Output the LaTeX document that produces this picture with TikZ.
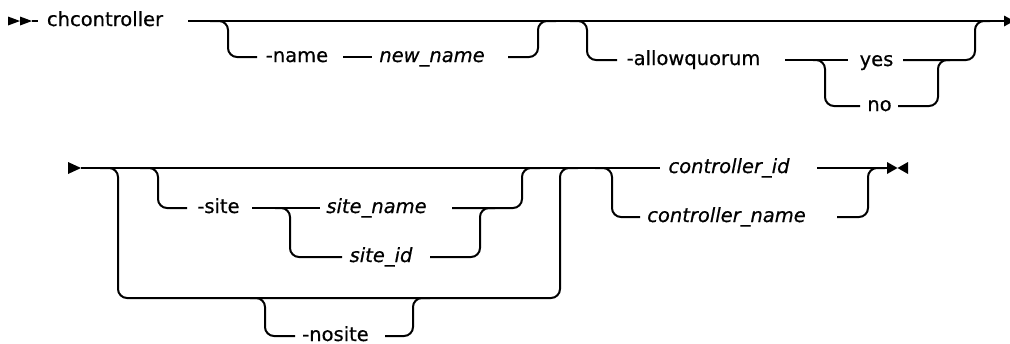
\documentclass[tikz,border=0pt]{standalone}
\usepackage{fontspec}
\setmainfont{DejaVu Sans}[FakeBold=0.6]
\begin{document}
\begin{tikzpicture}[x=1pt,y=-1pt,line width=2pt,
  rr/.style={rounded corners=9pt},
  kw/.style={anchor=base,inner sep=0pt,yshift=-5pt,font=\fontsize{19.5}{22}\selectfont},
  var/.style={anchor=base,inner sep=0pt,yshift=-5pt,font=\fontsize{19.5}{22}\selectfont\itshape},
  tipshape/.style={fill=black,draw=none}]
\useasboundingbox (0,0) rectangle (1010,343);
% ---------- text nodes ----------
\node[kw]  (cmd)   at (105,21)   {chcontroller};
\node[kw]  (nm)    at (297,57)   {-name};
\node[var] (nnm)   at (432,57)   {new\_name};
\node[kw]  (aq)    at (693.5,60) {-allowquorum};
\node[kw]  (yes)   at (876.5,61) {yes};
\node[kw]  (no)    at (879.5,106){no};
\node[kw]  (site)  at (218.5,208){-site};
\node[var] (sname) at (376.5,208){site\_name};
\node[var] (sid)   at (381,257)  {site\_id};
\node[kw]  (nos)   at (335.5,336){-nosite};
\node[var] (cid)   at (729,168)  {controller\_id};
\node[var] (cname) at (726.5,217){controller\_name};
% ---------- coordinates ----------
\coordinate (s1) at (32,21);   \coordinate (s1b) at (38,21);
\coordinate (m1a) at (188,21); \coordinate (m1b) at (1005,21);
\coordinate (n1) at (210,21);  \coordinate (n2) at (228,21); \coordinate (n3) at (228,57); \coordinate (n4) at (257,57);
\coordinate (n5) at (343,57);  \coordinate (n6) at (372,57);
\coordinate (n7) at (508,57);  \coordinate (n8) at (538,57); \coordinate (n9) at (538,21); \coordinate (n10) at (556,21);
\coordinate (a1) at (570,21);  \coordinate (a2) at (587,21); \coordinate (a3) at (587,60); \coordinate (a4) at (617,60);
\coordinate (a5) at (785,60);  \coordinate (a6) at (848,60);
\coordinate (a7) at (813,60);  \coordinate (a8) at (825,60); \coordinate (a9) at (825,106); \coordinate (a10) at (860,106);
\coordinate (y1) at (903,60);  \coordinate (y2) at (975,60); \coordinate (y3) at (975,21); \coordinate (y4) at (990,21);
\coordinate (o1) at (898,106); \coordinate (o2) at (938,106); \coordinate (o3) at (938,60); \coordinate (o4) at (950,60);
\coordinate (s2) at (81,168);  \coordinate (m2b) at (660,168);
\coordinate (p1) at (100,168); \coordinate (p2) at (118,168); \coordinate (p3) at (118,298); \coordinate (p4) at (560,298); \coordinate (p5) at (560,168); \coordinate (p6) at (578,168);
\coordinate (q1) at (250,298); \coordinate (q2) at (265,298); \coordinate (q3) at (265,336); \coordinate (q4) at (295,336);
\coordinate (q5) at (385,336); \coordinate (q6) at (413,336); \coordinate (q7) at (413,298); \coordinate (q8) at (430,298);
\coordinate (t1) at (140,168); \coordinate (t2) at (158,168); \coordinate (t3) at (158,208); \coordinate (t4) at (187,208);
\coordinate (t5) at (252,208); \coordinate (t6) at (320,208);
\coordinate (u1) at (275,208); \coordinate (u2) at (290,208); \coordinate (u3) at (290,257); \coordinate (u4) at (342,257);
\coordinate (u5) at (430,257); \coordinate (u6) at (480,257); \coordinate (u7) at (480,208); \coordinate (u8) at (495,208);
\coordinate (v1) at (452,208); \coordinate (v2) at (522,208); \coordinate (v3) at (522,168); \coordinate (v4) at (540,168);
\coordinate (c1) at (595,168); \coordinate (c2) at (612,168); \coordinate (c3) at (612,217); \coordinate (c4) at (640,217);
\coordinate (c5) at (817,168); \coordinate (c6) at (887,168);
\coordinate (c7) at (837,217); \coordinate (c8) at (868,217); \coordinate (c9) at (868,168); \coordinate (c10) at (885,168);
% ---------- start / end symbols ----------
\fill[tipshape] (8,16.5) -- (20,21) -- (8,25.5) -- cycle;
\fill[tipshape] (20,16.5) -- (s1) -- (20,25.5) -- cycle;
\draw (s1) -- (s1b);
\fill[tipshape] (68,162) -- (s2) -- (68,174) -- cycle;
\fill[tipshape] (1004,15.5) -- (1014,21) -- (1004,26.5) -- cycle;
\fill[tipshape] (887,162) -- (897.5,168) -- (887,174) -- cycle;
\fill[tipshape] (908,162) -- (897.5,168) -- (908,174) -- cycle;
% ---------- row 1 ----------
\draw (m1a) -- (m1b);
\draw[rr] (n1) -- (n2) -- (n3) -- (n4);
\draw (n5) -- (n6);
\draw[rr] (n7) -- (n8) -- (n9) -- (n10);
\draw[rr] (a1) -- (a2) -- (a3) -- (a4);
\draw (a5) -- (a6);
\draw[rr] (a7) -- (a8) -- (a9) -- (a10);
\draw[rr] (y1) -- (y2) -- (y3) -- (y4);
\draw[rr] (o1) -- (o2) -- (o3) -- (o4);
% ---------- row 2 ----------
\draw (s2) -- (m2b);
\draw[rr] (p1) -- (p2) -- (p3) -- (p4) -- (p5) -- (p6);
\draw[rr] (q1) -- (q2) -- (q3) -- (q4);
\draw[rr] (q5) -- (q6) -- (q7) -- (q8);
\draw[rr] (t1) -- (t2) -- (t3) -- (t4);
\draw (t5) -- (t6);
\draw[rr] (u1) -- (u2) -- (u3) -- (u4);
\draw[rr] (u5) -- (u6) -- (u7) -- (u8);
\draw[rr] (v1) -- (v2) -- (v3) -- (v4);
\draw[rr] (c1) -- (c2) -- (c3) -- (c4);
\draw (c5) -- (c6);
\draw[rr] (c7) -- (c8) -- (c9) -- (c10);
\end{tikzpicture}
\end{document}
